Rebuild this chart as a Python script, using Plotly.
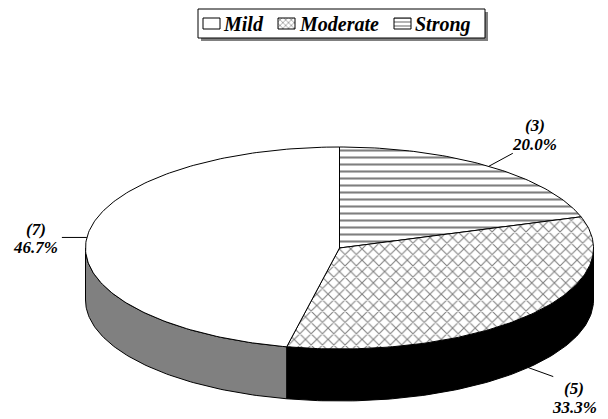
import math
import plotly.graph_objects as go

# ---- data -------------------------------------------------------------
categories = ["Mild", "Moderate", "Strong"]
counts = [7, 5, 3]

# ---- styling ----------------------------------------------------------
top_fill = {"Mild": dict(shape="", size=8, sol=0.2),
            "Moderate": dict(shape="x", size=8, sol=0.25),
            "Strong": dict(shape="-", size=7, sol=0.3)}
side_color = {"Mild": "#808080", "Moderate": "#000000", "Strong": "#404040"}

W, H = 608, 419
CX, CY, RX, RY, DEPTH = 339.5, 248, 254, 101, 52
FONT = "Times New Roman"


def styled(txt):
    return f'<span style="font-family:Liberation Serif,Times New Roman,serif"><b><i>{txt}</i></b></span>'


# leader end offset from the slice anchor, and label placement from that end
label_layout = {
    "Strong":   dict(lead=(24, -13), count=(22, -28), pct=(22, -9)),
    "Mild":     dict(lead=(-25, 0), count=(-26, -8), pct=(-26, 10)),
    "Moderate": dict(lead=(25, 9), count=(21, 12), pct=(21, 31)),
}


def pt(theta, dy=0.0):
    r = math.radians(theta)
    return CX + RX * math.sin(r), CY - RY * math.cos(r) + dy


def arc(a0, a1, dy=0.0, step=1.0):
    n = max(2, int(abs(a1 - a0) / step) + 1)
    xs, ys = [], []
    for i in range(n):
        x, y = pt(a0 + (a1 - a0) * i / (n - 1), dy)
        xs.append(x)
        ys.append(y)
    return xs, ys


fig = go.Figure()
total = sum(counts)

# slices run clockwise from 12 o'clock: Strong, Moderate, Mild
order = list(reversed(range(len(categories))))
spans = []
start = 0.0
for i in order:
    sweep = 360.0 * counts[i] / total
    spans.append((i, start, start + sweep))
    start += sweep

# visible side walls (front half of the disc)
for i, a0, a1 in spans:
    s0, s1 = max(a0, 90.0), min(a1, 270.0)
    if s1 <= s0:
        continue
    tx, ty = arc(s0, s1)
    bx, by = arc(s1, s0, DEPTH)
    fig.add_trace(go.Scatter(
        x=tx + bx + [tx[0]], y=ty + by + [ty[0]], mode="lines", fill="toself",
        fillcolor=side_color[categories[i]], line=dict(color="black", width=1),
        hoverinfo="skip", showlegend=False))

# top faces
for i, a0, a1 in spans:
    name = categories[i]
    ax, ay = arc(a0, a1)
    st = top_fill[name]
    fig.add_trace(go.Scatter(
        x=[CX] + ax + [CX], y=[CY] + ay + [CY], mode="lines", fill="toself",
        fillcolor="white",
        fillpattern=dict(shape=st["shape"], size=st["size"], solidity=st["sol"],
                         fgcolor="black", bgcolor="white"),
        line=dict(color="black", width=1), name=name,
        hoverinfo="skip", showlegend=False))

# value labels with leader lines
annotations = []
for i, a0, a1 in spans:
    name = categories[i]
    mid = (a0 + a1) / 2
    front = 90 < mid < 270
    sx, sy = pt(mid, DEPTH if front else 0)
    lay = label_layout[name]
    ex, ey = sx + lay["lead"][0], sy + lay["lead"][1]
    fig.add_trace(go.Scatter(x=[sx, ex], y=[sy, ey], mode="lines",
                             line=dict(color="black", width=1),
                             hoverinfo="skip", showlegend=False))
    pct = 100.0 * counts[i] / total
    for key, txt in (("count", f"({counts[i]})"), ("pct", f"{pct:.1f}%")):
        dx, dy = lay[key]
        annotations.append(dict(x=ex + dx, y=ey + dy, xref="x", yref="y",
                                text=styled(txt), showarrow=False,
                                font=dict(family=FONT, size=17, color="black"),
                                xanchor="center", yanchor="middle"))

# legend box with drop shadow
leg_x0, leg_y0, leg_x1, leg_y1 = 198, 9, 485, 38
shapes = [
    dict(type="rect", xref="x", yref="y", x0=leg_x0 + 3, y0=leg_y0 + 3,
         x1=leg_x1 + 3, y1=leg_y1 + 3, fillcolor="#808080", line=dict(width=0),
         layer="below"),
    dict(type="rect", xref="x", yref="y", x0=leg_x0, y0=leg_y0, x1=leg_x1,
         y1=leg_y1, fillcolor="white", line=dict(color="black", width=1),
         layer="below"),
]
legend_items = {"Mild": (203, 221), "Moderate": (278, 297), "Strong": (394, 413)}
for name in categories:
    sx0, tx0 = legend_items[name]
    st = top_fill[name]
    fig.add_trace(go.Scatter(
        x=[sx0, sx0 + 17, sx0 + 17, sx0, sx0], y=[18, 18, 29, 29, 18],
        mode="lines", fill="toself", fillcolor="white",
        fillpattern=dict(shape=st["shape"], size=4,
                         solidity=0.3, fgcolor="black", bgcolor="white"),
        line=dict(color="black", width=1), hoverinfo="skip", showlegend=False))
    annotations.append(dict(x=tx0, y=24, xref="x", yref="y",
                            text=styled(name), showarrow=False,
                            font=dict(family=FONT, size=20, color="black"),
                            xanchor="left", yanchor="middle"))

fig.update_layout(
    width=W, height=H, margin=dict(l=0, r=0, t=0, b=0),
    font=dict(family=FONT, color="black"),
    paper_bgcolor="white", plot_bgcolor="white",
    xaxis=dict(range=[0, W], visible=False, fixedrange=True),
    yaxis=dict(range=[H, 0], visible=False, fixedrange=True),
    shapes=shapes, annotations=annotations, showlegend=False,
)

fig.write_html("out.html")
